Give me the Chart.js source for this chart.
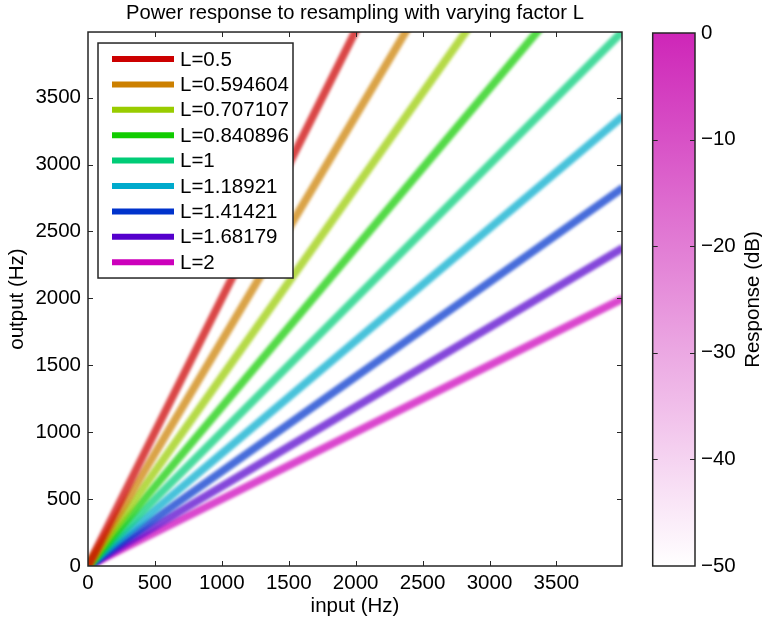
<!DOCTYPE html>
<html>
<head>
<meta charset="utf-8">
<script src="https://cdn.jsdelivr.net/npm/chart.js@4.4.1/dist/chart.umd.min.js"></script>
<style>
  html, body { margin: 0; padding: 0; background: #fff; }
  #wrap { position: relative; width: 762px; height: 624px; }
  #main { position: absolute; left: 0; top: 0; }
  #bar { position: absolute; left: 630px; top: 0; }
</style>
</head>
<body>
<div id="wrap">
  <canvas id="main" width="710" height="624"></canvas>
  <canvas id="bar" width="132" height="624"></canvas>
</div>
<script>
const factors = ["0.5", "0.594604", "0.707107", "0.840896", "1", "1.18921", "1.41421", "1.68179", "2"]
const inputEnd = 4000
// output frequency reached at the right edge for each factor
const outputEnd = [8000, 6727, 5657, 4757, 4000, 3364, 2828, 2378, 2000]
const lineColors = ["#cc0000", "#cc8000", "#99cc00", "#11cc00", "#00cc77", "#00aacc", "#0033cc", "#5500cc", "#cc00bb"]
const xTicks = [0, 500, 1000, 1500, 2000, 2500, 3000, 3500]
const yTicks = [0, 500, 1000, 1500, 2000, 2500, 3000, 3500]
const dbTicks = [0, -10, -20, -30, -40, -50]

const FONT = "'Liberation Sans', Arial, sans-serif"
const FONT_SIZE = 20.5
const FRAME = "#262626"

Chart.defaults.font.family = FONT
Chart.defaults.color = "#000"

const fadeColor = (hex, opacity) => {
  const r = parseInt(hex.slice(1, 3), 16)
  const g = parseInt(hex.slice(3, 5), 16)
  const b = parseInt(hex.slice(5, 7), 16)
  return `rgba(${r}, ${g}, ${b}, ${opacity})`
}

// soft edges on the response bands
const softLines = {
  id: "softLines",
  beforeDatasetsDraw(chart) {
    chart.ctx.save()
    chart.ctx.filter = "blur(1.6px)"
  },
  afterDatasetsDraw(chart) {
    chart.ctx.restore()
  },
}

// legend box in the upper left corner of the plot
const boxLegend = {
  id: "boxLegend",
  afterDatasetsDraw(chart) {
    const ctx = chart.ctx
    const left = chart.chartArea.left + 10
    const top = chart.chartArea.top + 11
    ctx.save()
    ctx.fillStyle = "#fff"
    ctx.fillRect(left, top, 195, 235)
    ctx.strokeStyle = FRAME
    ctx.lineWidth = 1.5
    ctx.strokeRect(left, top, 195, 235)
    ctx.font = `${FONT_SIZE}px ${FONT}`
    ctx.textBaseline = "middle"
    ctx.fillStyle = "#000"
    factors.forEach((f, i) => {
      const y = top + 16 + i * 25.4
      ctx.strokeStyle = lineColors[i]
      ctx.lineWidth = 6
      ctx.beginPath()
      ctx.moveTo(left + 14, y)
      ctx.lineTo(left + 76, y)
      ctx.stroke()
      ctx.fillText(`L=${f}`, left + 82, y + 1)
    })
    ctx.restore()
  },
}

// box around the plot with inward tick marks on every side
const frameTicks = {
  id: "frameTicks",
  afterDraw(chart) {
    const { ctx, chartArea: a, scales } = chart
    const len = 5
    ctx.save()
    ctx.strokeStyle = FRAME
    ctx.lineWidth = 1.5
    ctx.strokeRect(a.left, a.top, a.right - a.left, a.bottom - a.top)
    ctx.lineWidth = 1
    ctx.beginPath()
    xTicks.slice(1).forEach((v) => {
      const x = Math.round(scales.x.getPixelForValue(v)) + 0.5
      ctx.moveTo(x, a.bottom); ctx.lineTo(x, a.bottom - len)
      ctx.moveTo(x, a.top); ctx.lineTo(x, a.top + len)
    })
    yTicks.slice(1).forEach((v) => {
      const y = Math.round(scales.y.getPixelForValue(v)) + 0.5
      ctx.moveTo(a.left, y); ctx.lineTo(a.left + len, y)
      ctx.moveTo(a.right, y); ctx.lineTo(a.right - len, y)
    })
    ctx.stroke()
    ctx.restore()
  },
}

new Chart(document.getElementById("main"), {
  type: "line",
  data: {
    datasets: factors.map((f, i) => ({
      label: `L=${f}`,
      data: [{ x: 0, y: 0 }, { x: inputEnd, y: outputEnd[i] }],
      borderColor: fadeColor(lineColors[i], 0.72),
      borderWidth: 8,
      borderCapStyle: "butt",
      pointRadius: 0,
      fill: false,
    })),
  },
  options: {
    responsive: false,
    animation: false,
    layout: { padding: { right: 88 } },
    plugins: {
      legend: { display: false },
      tooltip: { enabled: false },
      title: {
        display: true,
        fullSize: false,
        text: "Power response to resampling with varying factor L",
        color: "#000",
        font: { size: 20.2, weight: "normal", lineHeight: 1.1 },
        padding: { top: 2, bottom: 7.8 },
      },
    },
    scales: {
      x: {
        type: "linear",
        min: 0,
        max: 3990,
        afterBuildTicks: (s) => { s.ticks = xTicks.map((v) => ({ value: v })) },
        afterFit: (s) => { s.height = 58 },
        grid: { display: false, drawTicks: false },
        border: { display: false },
        ticks: { padding: 5, font: { size: FONT_SIZE }, maxRotation: 0, callback: (v) => String(v) },
        title: { display: true, text: "input (Hz)", font: { size: FONT_SIZE }, padding: { bottom: 5.5 } },
      },
      y: {
        type: "linear",
        min: 0,
        max: 3990,
        afterBuildTicks: (s) => { s.ticks = yTicks.map((v) => ({ value: v })) },
        afterFit: (s) => { s.width = 88 },
        grid: { display: false, drawTicks: false },
        border: { display: false },
        ticks: { padding: 7, font: { size: FONT_SIZE }, callback: (v) => String(v) },
        title: { display: true, text: "output (Hz)", font: { size: FONT_SIZE }, padding: { top: 5.5 } },
      },
    },
  },
  plugins: [softLines, boxLegend, frameTicks],
})

// colour bar: one floating bar spanning the dB range
const barFrame = {
  id: "barFrame",
  afterDraw(chart) {
    const { ctx, chartArea: a, scales } = chart
    const len = 5
    ctx.save()
    ctx.strokeStyle = FRAME
    ctx.lineWidth = 1.5
    ctx.strokeRect(a.left, a.top, a.right - a.left, a.bottom - a.top)
    ctx.lineWidth = 1
    ctx.beginPath()
    dbTicks.slice(1, -1).forEach((v) => {
      const y = Math.round(scales.y.getPixelForValue(v)) + 0.5
      ctx.moveTo(a.left, y); ctx.lineTo(a.left + len, y)
      ctx.moveTo(a.right, y); ctx.lineTo(a.right - len, y)
    })
    ctx.stroke()
    ctx.translate(123, (a.top + a.bottom) / 2)
    ctx.rotate(-Math.PI / 2)
    ctx.font = `${FONT_SIZE}px ${FONT}`
    ctx.fillStyle = "#000"
    ctx.textAlign = "center"
    ctx.textBaseline = "middle"
    ctx.fillText("Response (dB)", 0, 0)
    ctx.restore()
  },
}

new Chart(document.getElementById("bar"), {
  type: "bar",
  data: {
    labels: [""],
    datasets: [{
      data: [[-50, 0]],
      backgroundColor: (c) => {
        const a = c.chart.chartArea
        if (!a) return "#cc22bb"
        const g = c.chart.ctx.createLinearGradient(0, a.top, 0, a.bottom)
        g.addColorStop(0, "rgb(206, 38, 184)")
        g.addColorStop(1, "#ffffff")
        return g
      },
      borderWidth: 0,
      barPercentage: 1,
      categoryPercentage: 1,
    }],
  },
  options: {
    responsive: false,
    animation: false,
    layout: { padding: { left: 22.7, top: 33, bottom: 58 } },
    plugins: { legend: { display: false }, tooltip: { enabled: false } },
    scales: {
      x: { display: false },
      y: {
        position: "right",
        min: -50,
        max: 0,
        afterBuildTicks: (s) => { s.ticks = dbTicks.map((v) => ({ value: v })) },
        afterFit: (s) => { s.width = 67 },
        grid: { display: false, drawTicks: false },
        border: { display: false },
        ticks: {
          padding: 6,
          font: { size: FONT_SIZE },
          callback: (v) => String(v).replace("-", "\u2212"),
        },
      },
    },
  },
  plugins: [barFrame],
})
</script>
</body>
</html>
